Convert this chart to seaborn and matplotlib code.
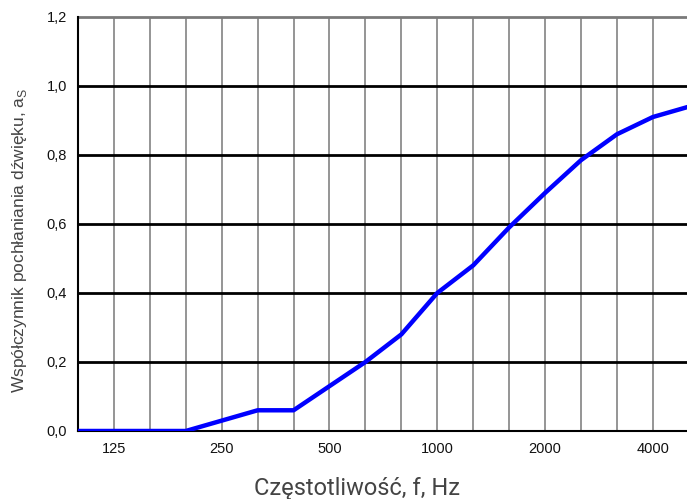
import matplotlib
matplotlib.use("Agg")
import matplotlib.pyplot as plt
import seaborn as sns
import pandas as pd

bands = ["100", "125", "160", "200", "250", "315", "400", "500", "630", "800",
         "1000", "1250", "1600", "2000", "2500", "3150", "4000", "5000"]
alpha_s = [0.0, 0.0, 0.0, 0.0, 0.03, 0.06, 0.06, 0.13, 0.2, 0.28,
           0.4, 0.48, 0.59, 0.69, 0.785, 0.86, 0.91, 0.94]
tick_labels = ["125", "250", "500", "1000", "2000", "4000"]
y_ticks = [0.0, 0.2, 0.4, 0.6, 0.8, 1.0, 1.2]

sns.set_style("white")
df = pd.DataFrame({"idx": range(len(bands)), "alpha": alpha_s})

fig = plt.figure(figsize=(6.87, 4.99), dpi=100)
ax = fig.add_axes([0.1135, 0.1363, 0.8865, 0.8297])

# grid lines
for i in range(len(bands)):
    ax.axvline(i, color="#8c8c8c", lw=1.3, zorder=1)
for y in y_ticks[1:-1]:
    ax.axhline(y, color="black", lw=2.0, zorder=2)
ax.axhline(1.2, color="#7a7a7a", lw=2.0, zorder=2, clip_on=False)

sns.lineplot(data=df, x="idx", y="alpha", color="#0000ff", lw=3.2, ax=ax, zorder=3)

ax.set_xlim(0, 16.95)
ax.set_ylim(0, 1.2)
ax.set_xticks([bands.index(t) for t in tick_labels])
ax.set_xticklabels(tick_labels, fontsize=10.5, family="Liberation Sans", color="#111111")
ax.set_yticks(y_ticks)
ax.set_yticklabels([f"{v:.1f}".replace(".", ",") for v in y_ticks],
                   fontsize=10.5, family="Liberation Sans", color="#111111")
ax.tick_params(axis="both", length=0, pad=8)

for s in ["top", "right"]:
    ax.spines[s].set_visible(False)
ax.spines["left"].set_color("black")
ax.spines["left"].set_linewidth(1.5)
ax.spines["bottom"].set_color("black")
ax.spines["bottom"].set_linewidth(1.5)

ax.set_xlabel("Częstotliwość, f, Hz", fontsize=17, family="Roboto", color="#444444")
ax.xaxis.set_label_coords(0.458, -0.112)
ax.set_ylabel("Współczynnik pochłaniania dźwięku, a$_{\\mathregular{S}}$", fontsize=12.5,
              family="Liberation Sans", color="#444444")
ax.yaxis.set_label_coords(-0.08, 0.46)

fig.savefig("out.png", dpi=100)
